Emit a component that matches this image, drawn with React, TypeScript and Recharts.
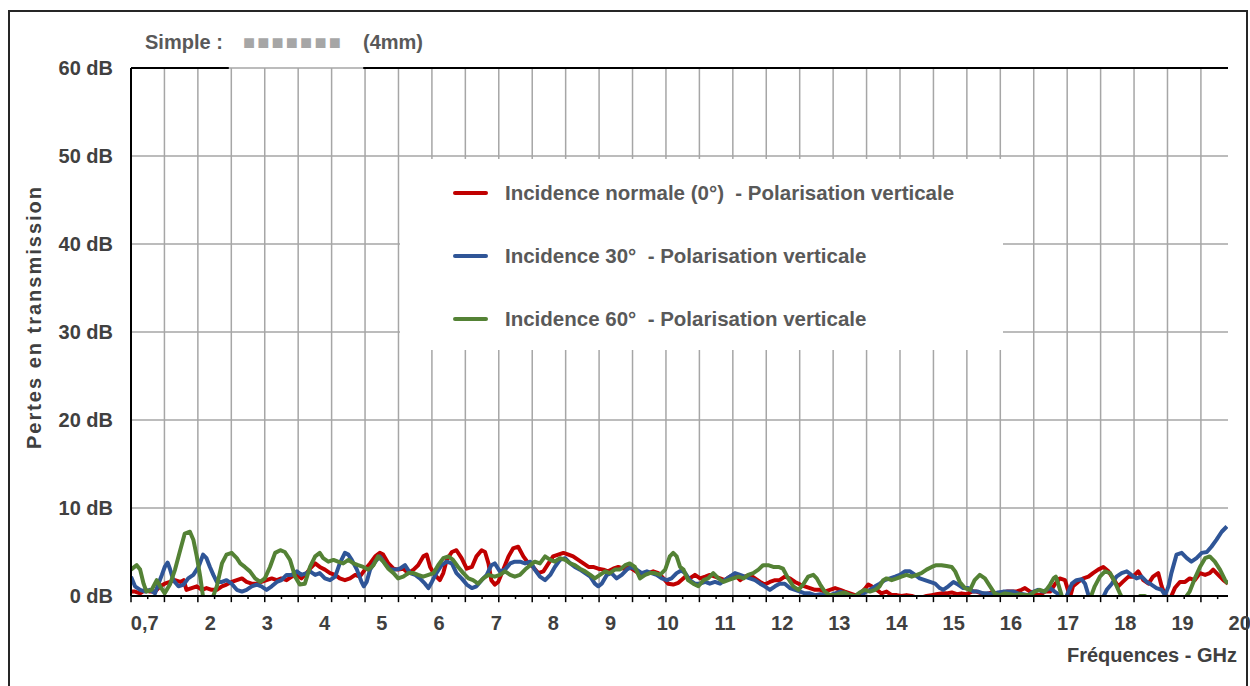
import { LineChart, Line, XAxis, YAxis, CartesianGrid, Legend, ReferenceLine } from 'recharts';

const FONT = '"Liberation Sans", Arial, sans-serif';

// frequency (GHz) labels under the plot; 0,7 is the start of the sweep
const FREQ_TICKS = [0.7, 2, 3, 4, 5, 6, 7, 8, 9, 10, 11, 12, 13, 14, 15, 16, 17, 18, 19, 20];
const DB_TICKS = [0, 10, 20, 30, 40, 50, 60];
const F_MIN = 0.65;
const F_MAX = 19.83;
// the Excel sheet draws its gridlines every 2 categories, not on the GHz labels
const GRID_SPAN = 32.81;
const GRID_STEPS = Array.from({ length: 33 }, (_, i) => i);
const GHZ_PER_STEP = (F_MAX - F_MIN) / GRID_SPAN;

const SERIES_NAMES = [
  'Incidence normale (0°)  - Polarisation verticale',
  'Incidence 30°  - Polarisation verticale',
  'Incidence 60°  - Polarisation verticale',
];

// [GHz, dB]
const RED_0: [number, number][] = [
  [0.65, 0.5], [0.72, 0.5], [0.81, 0.3], [0.9, 0.7], [0.98, 0.5], [1.07, 0.5], [1.16, 1.1], [1.24, 1.4],
  [1.33, 1.6], [1.42, 1.8], [1.51, 1.6], [1.57, 1.8], [1.62, 0.7], [1.71, 0.9], [1.8, 1.1], [1.89, 0.7],
  [1.97, 0.9], [2.06, 0.7], [2.15, 0.7], [2.24, 1.1], [2.32, 1.3], [2.41, 1.6], [2.5, 1.8], [2.59, 2.0],
  [2.67, 1.6], [2.76, 1.4], [2.85, 1.4], [2.93, 1.6], [3.02, 1.8], [3.11, 2.0], [3.2, 1.8], [3.28, 2.0],
  [3.37, 1.8], [3.46, 2.2], [3.55, 2.4], [3.63, 2.0], [3.72, 2.6], [3.78, 3.1],
  [3.87, 3.7], [3.95, 3.3], [4.04, 3.0], [4.13, 2.6], [4.22, 2.4], [4.3, 2.0], [4.39, 1.8], [4.48, 2.0],
  [4.57, 2.4], [4.65, 2.2], [4.74, 3.0], [4.83, 3.7], [4.92, 4.5], [5.0, 4.9], [5.06, 4.7], [5.15, 3.7],
  [5.24, 3.1], [5.32, 3.0], [5.41, 3.1], [5.5, 2.6], [5.59, 3.0], [5.67, 3.5], [5.76, 4.5], [5.82, 4.7],
  [5.88, 3.3], [5.96, 2.4], [6.05, 1.8], [6.11, 2.6], [6.17, 4.1], [6.26, 5.0], [6.34, 5.2], [6.43, 4.3],
  [6.52, 3.1], [6.61, 3.3], [6.69, 4.5], [6.78, 5.2], [6.84, 5.0], [6.9, 3.7], [6.95, 1.8], [7.01, 1.3],
  [7.07, 1.6], [7.16, 3.0], [7.25, 4.5], [7.33, 5.4], [7.42, 5.6], [7.51, 4.5], [7.6, 3.7], [7.68, 3.3],
  [7.77, 2.6], [7.86, 2.8], [7.95, 3.7], [8.03, 4.5], [8.12, 4.7], [8.21, 4.9], [8.3, 4.7], [8.38, 4.5],
  [8.47, 4.1], [8.56, 3.7], [8.65, 3.3], [8.73, 3.3], [8.82, 3.1], [8.91, 3.0], [8.99, 2.8], [9.08, 3.1],
  [9.17, 3.3], [9.26, 3.1], [9.35, 3.3], [9.43, 3.0], [9.52, 2.6], [9.61, 2.4], [9.69, 2.6], [9.78, 2.8],
  [9.87, 2.6], [9.96, 2.0], [10.04, 1.4], [10.13, 1.3], [10.22, 1.5],
  [10.34, 2.2], [10.42, 2.0], [10.51, 2.4], [10.6, 2.0], [10.69, 2.2], [10.77, 2.4], [10.86, 2.2], [10.95, 2.0],
  [11.03, 1.8], [11.12, 2.2], [11.21, 2.4], [11.3, 1.8], [11.38, 2.2], [11.47, 2.4], [11.56, 2.0], [11.65, 1.6],
  [11.73, 1.3], [11.82, 1.6], [11.91, 1.8], [11.99, 1.8], [12.08, 2.2], [12.17, 2.0], [12.26, 1.6], [12.35, 1.3],
  [12.43, 1.1], [12.52, 0.9], [12.61, 0.7], [12.7, 0.7], [12.78, 0.5], [12.87, 0.7], [12.96, 0.9], [13.05, 0.7],
  [13.13, 0.5], [13.22, 0.3], [13.31, 0.1], [13.39, 0.2],
  [13.48, 0.8], [13.54, 1.3], [13.6, 1.1], [13.69, 0.7], [13.77, 0.3], [13.86, 0.5], [13.95, 0.1], [14.04, 0.1],
  [14.12, 0.0], [14.21, 0.1], [14.3, 0.0], [14.39, -0.2], [14.47, -0.2], [14.56, 0.0], [14.65, 0.1], [14.73, 0.2],
  [14.82, 0.3], [14.91, 0.3], [15.0, 0.4], [15.09, 0.2], [15.17, 0.3], [15.26, 0.2], [15.35, 0.5], [15.43, 0.5],
  [15.52, 0.3], [15.61, 0.2], [15.7, 0.4], [15.78, 0.3], [15.87, 0.4], [15.96, 0.5], [16.05, 0.5], [16.13, 0.5],
  [16.22, 0.7], [16.28, 0.9], [16.37, 0.5], [16.45, 0.2], [16.54, 0.1], [16.63, 0.5],
  [16.72, 0.5], [16.8, 1.3], [16.89, 2.0], [16.98, 1.8], [17.04, 0.5], [17.07, -0.1], [17.12, 1.1], [17.21, 1.6],
  [17.3, 2.0], [17.39, 2.2], [17.47, 2.6], [17.56, 3.0], [17.65, 3.3], [17.74, 2.8], [17.82, 2.0], [17.91, 1.1],
  [17.99, 1.6], [18.09, 2.2], [18.17, 2.2], [18.26, 2.8], [18.35, 1.8], [18.44, 1.4], [18.52, 2.2], [18.61, 2.6],
  [18.67, 1.1], [18.73, 0.1], [18.82, -0.3], [18.9, 0.9], [18.99, 1.6], [19.08, 1.6], [19.16, 2.0], [19.25, 1.8],
  [19.34, 2.6], [19.43, 2.4], [19.51, 2.6], [19.57, 3.0], [19.66, 2.4], [19.75, 1.8], [19.83, 1.4],
];

const BLUE_30: [number, number][] = [
  [0.65, 2.2], [0.72, 1.1], [0.81, 0.7], [0.9, 0.5], [0.98, 0.7], [1.07, 0.3], [1.13, 1.4], [1.19, 2.4],
  [1.24, 3.3], [1.29, 3.8], [1.33, 3.1], [1.39, 1.8], [1.48, 1.1], [1.57, 1.3], [1.65, 2.0], [1.74, 2.4],
  [1.83, 3.3], [1.91, 4.7], [1.97, 4.3], [2.03, 3.3], [2.09, 2.4], [2.15, 1.6], [2.24, 1.6], [2.32, 1.8],
  [2.41, 1.4], [2.5, 0.7], [2.59, 0.5], [2.67, 0.7], [2.76, 1.1], [2.85, 1.3], [2.93, 1.1], [3.02, 0.7],
  [3.11, 1.1], [3.2, 1.6], [3.28, 1.8], [3.37, 2.4], [3.46, 2.4], [3.55, 2.8], [3.63, 2.4], [3.72, 2.6],
  [3.78, 2.8], [3.87, 2.4], [3.95, 2.6], [4.04, 2.0], [4.13, 1.8], [4.22, 2.2], [4.3, 3.7], [4.39, 4.9],
  [4.45, 4.7], [4.51, 4.1], [4.6, 3.0], [4.68, 1.6], [4.72, 1.1], [4.77, 1.6], [4.83, 3.0], [4.92, 3.9],
  [5.0, 4.5], [5.09, 3.7], [5.18, 3.0], [5.27, 3.0], [5.35, 3.1], [5.44, 3.5], [5.53, 2.6], [5.62, 2.4],
  [5.7, 2.0], [5.79, 1.4], [5.85, 0.9], [5.91, 1.6], [5.99, 2.6], [6.08, 3.5], [6.17, 3.9], [6.26, 3.7],
  [6.34, 2.6], [6.43, 2.0], [6.52, 1.3], [6.61, 0.9], [6.69, 1.1], [6.78, 1.8], [6.87, 2.4], [6.95, 3.5],
  [7.01, 3.7], [7.1, 2.8], [7.19, 3.0], [7.28, 3.7], [7.36, 3.9], [7.45, 3.9], [7.54, 3.7], [7.63, 3.9],
  [7.71, 3.0], [7.8, 2.2], [7.89, 1.8], [7.98, 2.4], [8.06, 3.3], [8.15, 4.1], [8.24, 4.3], [8.33, 3.7],
  [8.41, 3.3], [8.5, 3.0], [8.59, 2.6], [8.68, 2.2], [8.76, 1.4], [8.82, 1.1], [8.88, 1.4], [8.97, 2.4],
  [9.05, 2.6], [9.14, 2.0], [9.23, 2.4], [9.32, 3.0], [9.4, 3.3], [9.49, 3.0], [9.58, 2.6], [9.67, 2.8],
  [9.75, 2.6], [9.84, 2.4], [9.93, 2.0], [10.02, 1.8], [10.1, 2.0], [10.19, 2.6],
  [10.27, 2.9], [10.34, 2.6], [10.42, 1.8], [10.51, 1.4], [10.6, 1.4], [10.69, 1.6], [10.77, 1.4], [10.86, 1.6],
  [10.95, 1.4], [11.03, 1.8], [11.12, 2.2], [11.21, 2.6], [11.3, 2.4], [11.38, 2.2], [11.47, 2.0], [11.56, 1.8],
  [11.65, 1.4], [11.73, 1.1], [11.82, 0.7], [11.91, 1.1], [11.99, 1.4], [12.08, 1.4], [12.17, 0.9], [12.26, 0.7],
  [12.35, 0.5], [12.43, 0.3], [12.52, 0.3], [12.61, 0.1], [12.7, 0.2], [12.78, 0.1], [12.87, 0.1], [12.96, 0.3],
  [13.05, 0.5], [13.13, 0.3], [13.22, 0.1], [13.31, -0.1], [13.39, -0.3],
  [13.48, 0.4], [13.57, 0.7], [13.66, 1.1], [13.74, 1.4], [13.83, 1.8], [13.92, 2.0], [14.01, 2.2], [14.09, 2.4],
  [14.18, 2.8], [14.27, 2.8], [14.36, 2.4], [14.44, 2.0], [14.53, 1.8], [14.62, 1.6], [14.71, 1.4], [14.79, 0.9],
  [14.85, 0.7], [14.94, 1.1], [15.03, 1.6], [15.11, 1.3], [15.2, 0.9], [15.29, 0.9], [15.38, 0.5], [15.46, 0.5],
  [15.55, 0.3], [15.64, 0.3], [15.73, 0.2], [15.81, 0.4], [15.9, 0.5], [15.99, 0.5], [16.08, 0.5], [16.16, 0.3],
  [16.25, 0.2], [16.34, 0.1], [16.43, 0.5], [16.51, 0.7], [16.6, 0.5],
  [16.72, 0.9], [16.8, 0.5], [16.89, 0.1], [16.98, -0.5], [17.04, 0.5], [17.1, 1.4], [17.18, 1.8], [17.27, 1.9],
  [17.33, 1.4], [17.39, 0.1], [17.45, -0.6], [17.56, -0.6], [17.65, -0.1], [17.71, 0.7], [17.8, 1.4], [17.88, 2.2],
  [17.97, 2.6], [18.06, 2.8], [18.14, 2.4], [18.23, 2.0], [18.32, 2.2], [18.41, 1.6], [18.49, 1.3], [18.58, 0.9],
  [18.67, 0.7], [18.73, 0.1], [18.79, 1.1], [18.84, 2.6], [18.93, 4.7], [19.02, 4.9], [19.11, 4.3], [19.19, 3.9],
  [19.28, 4.3], [19.37, 4.9], [19.46, 5.0], [19.54, 5.6], [19.63, 6.4], [19.72, 7.3], [19.81, 7.9],
];

const GREEN_60: [number, number][] = [
  [0.65, 3.0], [0.75, 3.5], [0.81, 3.0], [0.87, 1.4], [0.92, 0.5], [1.01, 0.7], [1.1, 1.8], [1.16, 1.1],
  [1.24, 0.3], [1.33, 1.3], [1.42, 3.0], [1.51, 5.2], [1.59, 7.1], [1.68, 7.3], [1.74, 6.4], [1.8, 4.5],
  [1.86, 2.2], [1.91, -0.1], [1.97, -1.2], [2.06, -0.5], [2.15, 1.1], [2.24, 3.7], [2.32, 4.7], [2.41, 4.9],
  [2.5, 4.3], [2.56, 3.7], [2.64, 3.3], [2.73, 2.8], [2.82, 2.0], [2.91, 1.6], [2.99, 2.0], [3.08, 3.3],
  [3.17, 4.9], [3.26, 5.2], [3.34, 5.0], [3.43, 4.1], [3.52, 2.2], [3.6, 1.3], [3.69, 1.4],
  [3.78, 3.3], [3.87, 4.5], [3.95, 4.9], [4.01, 4.3], [4.1, 3.9], [4.19, 4.1], [4.27, 3.9], [4.36, 3.7],
  [4.45, 4.1], [4.54, 3.7], [4.62, 3.5], [4.71, 3.3], [4.8, 3.0], [4.89, 3.5], [4.97, 4.5], [5.06, 3.9],
  [5.15, 3.1], [5.24, 2.6], [5.32, 2.0], [5.41, 2.2], [5.5, 2.6], [5.59, 2.6], [5.67, 2.4], [5.76, 2.2],
  [5.85, 2.4], [5.94, 2.6], [6.02, 3.5], [6.11, 4.3], [6.2, 4.5], [6.28, 4.1], [6.37, 3.3], [6.46, 2.6],
  [6.55, 2.0], [6.63, 1.8], [6.72, 1.4], [6.81, 2.0], [6.9, 2.4],
  [7.01, 2.2], [7.1, 2.4], [7.19, 2.8], [7.28, 2.4], [7.36, 2.2], [7.45, 2.4], [7.54, 3.0], [7.63, 3.5],
  [7.71, 3.9], [7.8, 3.7], [7.89, 4.5], [7.98, 4.1], [8.06, 3.9], [8.15, 4.3], [8.24, 4.1], [8.33, 3.7],
  [8.41, 3.5], [8.5, 3.1], [8.59, 2.8], [8.68, 2.4], [8.76, 2.0], [8.85, 2.4], [8.94, 2.8], [9.02, 2.6],
  [9.11, 3.0], [9.2, 3.0], [9.29, 3.5], [9.37, 3.7], [9.46, 3.3], [9.55, 2.0], [9.64, 2.4], [9.72, 2.6],
  [9.81, 2.6], [9.9, 2.4], [9.99, 3.0], [10.07, 4.5], [10.13, 4.9], [10.19, 4.5], [10.25, 3.3],
  [10.31, 3.0], [10.39, 1.8], [10.48, 1.4], [10.57, 1.1], [10.66, 1.8], [10.74, 2.0], [10.83, 2.6], [10.92, 2.0],
  [11.01, 1.6], [11.09, 1.8], [11.18, 2.0], [11.27, 2.2], [11.36, 2.0], [11.44, 2.4], [11.53, 2.6], [11.62, 3.0],
  [11.7, 3.5], [11.79, 3.5], [11.88, 3.3], [11.97, 3.3], [12.05, 3.1], [12.14, 2.0], [12.23, 1.1], [12.32, 0.7],
  [12.4, 1.3], [12.49, 2.2], [12.58, 2.4], [12.64, 2.0], [12.7, 1.3], [12.78, 0.5], [12.87, 0.1], [12.96, 0.1],
  [13.05, 0.3], [13.13, 0.4], [13.22, 0.1], [13.31, 0.0], [13.39, 0.4],
  [13.48, 0.7], [13.57, 0.5], [13.66, 0.7], [13.74, 1.1], [13.8, 1.8], [13.86, 2.0], [13.95, 1.8], [14.04, 2.0],
  [14.12, 2.2], [14.21, 2.4], [14.3, 2.2], [14.39, 2.4], [14.47, 2.6], [14.56, 3.0], [14.65, 3.3], [14.73, 3.5],
  [14.82, 3.5], [14.91, 3.4], [15.0, 3.3], [15.06, 2.8], [15.14, 1.6], [15.23, 0.9], [15.32, 0.7], [15.4, 1.8],
  [15.49, 2.4], [15.58, 2.0], [15.67, 1.1], [15.75, 0.3], [15.84, 0.1], [15.93, 0.3], [16.02, 0.2], [16.1, 0.1],
  [16.19, 0.2], [16.28, 0.1], [16.37, 0.1], [16.45, 0.5], [16.54, 0.7], [16.63, 0.5],
  [16.72, 1.3], [16.78, 2.0], [16.82, 2.2], [16.86, 1.4], [16.92, 0.1], [16.98, -0.6], [17.18, -1.2], [17.42, -0.3],
  [17.5, 1.1], [17.59, 2.2], [17.68, 2.8], [17.77, 2.6], [17.85, 1.6], [17.94, 0.3], [18.0, -0.5], [18.17, -1.2],
  [18.29, 0.0], [18.38, 0.0], [18.47, -0.5], [18.7, -1.2], [18.93, -0.8], [19.05, -0.5], [19.16, 0.5], [19.25, 2.0],
  [19.34, 3.3], [19.43, 4.3], [19.51, 4.5], [19.6, 3.9], [19.69, 3.0], [19.78, 1.8], [19.83, 1.4],
];

const COLORS = ['#c00000', '#2f5597', '#548235'];

const rows = (pts: [number, number][]) => pts.map(([f, db]) => ({ f, db }));

// vertical gridlines, every grid step across the plot width
const gridVerticals = ({ offset }: any) =>
  GRID_STEPS.map((k) => offset.left + (k * offset.width) / GRID_SPAN);

// tick marks under the axis: long ones on the gridlines, short ones half way
const TICK_MARKS = GRID_STEPS.flatMap((k) => [
  { f: F_MIN + k * GHZ_PER_STEP, len: 0.7 },
  { f: F_MIN + (k + 0.5) * GHZ_PER_STEP, len: 0.35 },
]).filter((t) => t.f <= F_MAX);

function FreqTick({ x, y, payload }: any) {
  const first = payload.value === 0.7;
  return (
    <text
      x={first ? x - 3 : x + 2}
      y={y + 34}
      textAnchor={first ? 'start' : 'middle'}
      fill="#404040"
      fontSize={20}
      fontWeight="bold"
      fontFamily={FONT}
    >
      {first ? '0,7' : payload.value}
    </text>
  );
}

function XTitle({ viewBox }: any) {
  return (
    <text
      x={viewBox.x + viewBox.width + 9}
      y={viewBox.y + 66}
      textAnchor="end"
      fill="#404040"
      fontSize={20}
      fontWeight="bold"
      fontFamily={FONT}
    >
      Fréquences - GHz
    </text>
  );
}

function YTitle({ viewBox }: any) {
  const cx = viewBox.x + 41;
  const cy = viewBox.y + viewBox.height / 2 - 15;
  return (
    <text
      transform={`translate(${cx}, ${cy}) rotate(-90)`}
      textAnchor="middle"
      fill="#404040"
      fontSize={20}
      fontWeight="bold"
      letterSpacing={2}
      fontFamily={FONT}
    >
      Pertes en transmission
    </text>
  );
}

function LegendBox({ payload }: any) {
  const items = [...(payload || [])].sort(
    (a: any, b: any) => SERIES_NAMES.indexOf(a.value) - SERIES_NAMES.indexOf(b.value),
  );
  return (
    <div style={{ paddingTop: 2 }}>
      {items.map((e: any) => (
        <div key={e.value} style={{ display: 'flex', alignItems: 'center', height: 63 }}>
          <span style={{ width: 35, height: 4, marginLeft: 53, borderRadius: 2, background: e.color }} />
          <span
            style={{
              marginLeft: 17,
              whiteSpace: 'pre',
              color: '#595959',
              fontSize: 20.5,
              fontWeight: 'bold',
              fontFamily: FONT,
            }}
          >
            {e.value}
          </span>
        </div>
      ))}
    </div>
  );
}

export default function App() {
  const series = [RED_0, BLUE_30, GREEN_60];
  return (
    <div style={{ position: 'absolute', left: 0, top: 0, width: 1250, height: 686, background: '#fff', overflow: 'hidden', fontFamily: FONT }}>
      <div style={{ position: 'absolute', left: 8, top: 10, width: 1240, height: 700, border: '2px solid #262626', boxSizing: 'border-box' }} />
      <LineChart
        width={1250}
        height={686}
        margin={{ top: 68, right: 22, bottom: 30, left: 0 }}
        style={{ position: 'absolute', left: 0, top: 0 }}
      >
        <CartesianGrid
          xAxisId="lab"
          yAxisId="y"
          stroke="#a6a6a6"
          strokeWidth={1.5}
          verticalCoordinatesGenerator={gridVerticals}
        />
        <XAxis
          xAxisId="lab"
          dataKey="f"
          type="number"
          domain={[F_MIN, F_MAX]}
          allowDataOverflow
          ticks={FREQ_TICKS}
          interval={0}
          height={60}
          tickLine={false}
          tickSize={0}
          tickMargin={0}
          tick={<FreqTick />}
          axisLine={{ stroke: '#000', strokeWidth: 2 }}
          label={<XTitle />}
        />
        <YAxis
          yAxisId="y"
          type="number"
          domain={[0, 60]}
          allowDataOverflow
          ticks={DB_TICKS}
          interval={0}
          width={131}
          tickFormatter={(v: number) => `${v} dB`}
          tick={{ fill: '#404040', fontSize: 20, fontWeight: 'bold', fontFamily: FONT }}
          tickLine={false}
          tickSize={0}
          tickMargin={18}
          axisLine={{ stroke: '#000', strokeWidth: 2 }}
          label={<YTitle />}
        />
        <YAxis
          yAxisId="r"
          orientation="right"
          domain={[0, 60]}
          width={0}
          tick={false}
          tickLine={false}
          axisLine={{ stroke: '#000', strokeWidth: 2 }}
        />
        <ReferenceLine
          xAxisId="lab"
          yAxisId="y"
          segment={[{ x: F_MIN, y: 60 }, { x: 2.36, y: 60 }]}
          stroke="#000"
          strokeWidth={2}
          ifOverflow="visible"
        />
        <ReferenceLine
          xAxisId="lab"
          yAxisId="y"
          segment={[{ x: 4.71, y: 60 }, { x: F_MAX, y: 60 }]}
          stroke="#000"
          strokeWidth={2}
          ifOverflow="visible"
        />
        {TICK_MARKS.map((t, i) => (
          <ReferenceLine
            key={`tick-${i}`}
            xAxisId="lab"
            yAxisId="y"
            segment={[{ x: t.f, y: 0 }, { x: t.f, y: -t.len }]}
            stroke="#000"
            strokeWidth={1.5}
            ifOverflow="visible"
          />
        ))}
        {series.map((pts, i) => (
          <Line
            key={SERIES_NAMES[i]}
            xAxisId="lab"
            yAxisId="y"
            data={rows(pts)}
            dataKey="db"
            name={SERIES_NAMES[i]}
            type="linear"
            stroke={COLORS[i]}
            strokeWidth={4}
            strokeLinejoin="round"
            dot={false}
            activeDot={false}
            isAnimationActive={false}
          />
        ))}
        <Legend
          layout="horizontal"
          verticalAlign="middle"
          align="center"
          content={<LegendBox />}
          wrapperStyle={{ left: 400, top: 159, width: 603, height: 191, backgroundColor: '#fff' }}
        />
      </LineChart>
      <div style={{ position: 'absolute', left: 145, top: 30, height: 24, lineHeight: '24px', fontSize: 20, fontWeight: 'bold', color: '#595959', whiteSpace: 'nowrap' }}>
        <span>Simple :</span>
        <span style={{ position: 'absolute', left: 98, top: 0, color: '#a6a6a6', fontSize: 20, letterSpacing: 2.2 }}>■■■■■■■</span>
        <span style={{ position: 'absolute', left: 218, top: 0 }}>(4mm)</span>
      </div>
    </div>
  );
}
